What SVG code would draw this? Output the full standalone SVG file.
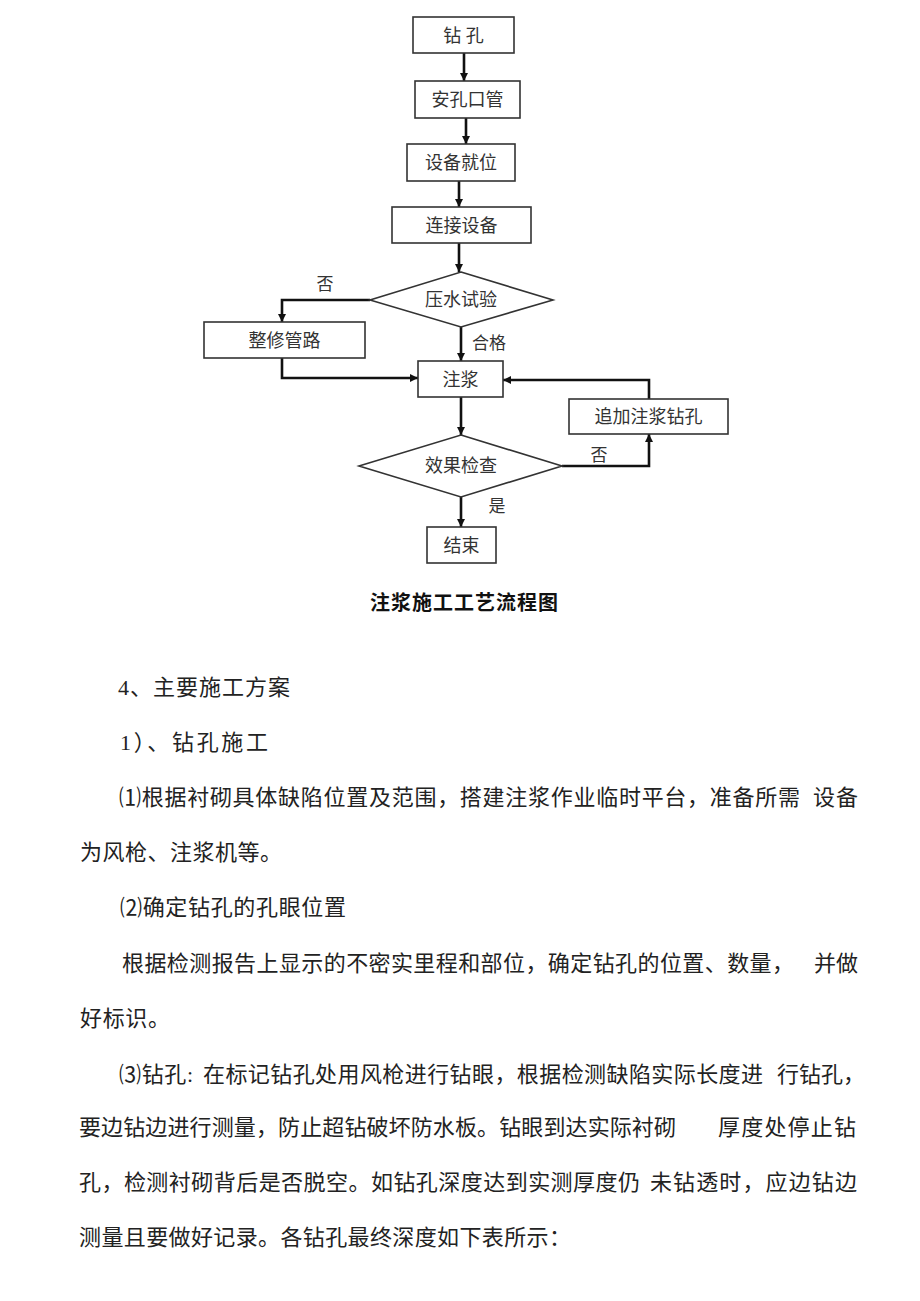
<svg xmlns="http://www.w3.org/2000/svg" width="920" height="1301" viewBox="0 0 920 1301">
<style>
.bg{fill:#ffffff}
.box{fill:#ffffff;stroke:#333333;stroke-width:1.6}
.lbl{font-family:"Liberation Serif","Noto Sans CJK SC",serif;font-size:18px;fill:#333333;text-anchor:middle;dominant-baseline:central}
.note{font-family:"Liberation Serif","Noto Sans CJK SC",serif;font-size:17px;fill:#333333;text-anchor:middle;dominant-baseline:central}
.con{fill:none;stroke:#111111;stroke-width:2.6;stroke-linejoin:miter}
.cap{font-family:"Liberation Serif","Noto Sans CJK SC",serif;font-size:20px;font-weight:bold;fill:#111111;dominant-baseline:central}
.body{font-family:"Liberation Serif","Noto Sans CJK SC",serif;font-size:22px;fill:#222222;dominant-baseline:central}
</style>
<defs>
<marker id="ah" viewBox="0 0 10 10" refX="10" refY="5" markerWidth="9" markerHeight="8" markerUnits="userSpaceOnUse" orient="auto">
<path d="M0,0 L10,5 L0,10 z" fill="#111111"/>
</marker>
</defs>
<rect class="bg" x="0" y="0" width="920" height="1301"/>

<g id="connectors">
<path class="con" d="M464,53 V81" marker-end="url(#ah)"/>
<path class="con" d="M466,118 V144" marker-end="url(#ah)"/>
<path class="con" d="M459,181 V207" marker-end="url(#ah)"/>
<path class="con" d="M459,243 V272" marker-end="url(#ah)"/>
<path class="con" d="M370,300 H282 V322" marker-end="url(#ah)"/>
<path class="con" d="M461,327 V361" marker-end="url(#ah)"/>
<path class="con" d="M282,358 V378 H418" marker-end="url(#ah)"/>
<path class="con" d="M649,399 V380 H503" marker-end="url(#ah)"/>
<path class="con" d="M461,397 V435" marker-end="url(#ah)"/>
<path class="con" d="M562,466 H649 V434" marker-end="url(#ah)"/>
<path class="con" d="M461,497 V527" marker-end="url(#ah)"/>
<text class="note" x="325" y="284">否</text>
<text class="note" x="489" y="343">合格</text>
<text class="note" x="599" y="455">否</text>
<text class="note" x="497" y="506">是</text>
</g>

<g id="n_drill">
<rect class="box" x="413" y="17" width="101" height="36"/>
<text class="lbl" x="463.5" y="36">钻 孔</text>
</g>
<g id="n_pipe">
<rect class="box" x="415" y="81" width="105" height="37"/>
<text class="lbl" x="467.5" y="100">安孔口管</text>
</g>
<g id="n_equip">
<rect class="box" x="407" y="144" width="108" height="37"/>
<text class="lbl" x="461" y="163">设备就位</text>
</g>
<g id="n_connect">
<rect class="box" x="392" y="207" width="139" height="36"/>
<text class="lbl" x="461.5" y="226">连接设备</text>
</g>
<g id="n_test">
<polygon class="box" points="461,272 553,300 461,327 370,300"/>
<text class="lbl" x="461" y="300">压水试验</text>
</g>
<g id="n_repair">
<rect class="box" x="204" y="322" width="161" height="36"/>
<text class="lbl" x="284.5" y="341">整修管路</text>
</g>
<g id="n_grout">
<rect class="box" x="418" y="361" width="85" height="36"/>
<text class="lbl" x="460.5" y="380">注浆</text>
</g>
<g id="n_extra">
<rect class="box" x="569" y="399" width="159" height="35"/>
<text class="lbl" x="648.5" y="417">追加注浆钻孔</text>
</g>
<g id="n_check">
<polygon class="box" points="461,435 562,466 461,497 359,466"/>
<text class="lbl" x="461" y="466">效果检查</text>
</g>
<g id="n_end">
<rect class="box" x="427" y="527" width="69" height="36"/>
<text class="lbl" x="461.5" y="546">结束</text>
</g>

<g id="caption">
<text class="cap" x="370" y="603" textLength="188" lengthAdjust="spacing">注浆施工工艺流程图</text>
</g>

<g id="body">
<text class="body" x="118" y="687" textLength="172" lengthAdjust="spacing">4、主要施工方案</text>
<text class="body" x="120" y="742" textLength="148" lengthAdjust="spacing">1）、钻孔施工</text>
<text class="body" x="119" y="797" textLength="681" lengthAdjust="spacing">⑴根据衬砌具体缺陷位置及范围，搭建注浆作业临时平台，准备所需</text>
<text class="body" x="813" y="797" textLength="45" lengthAdjust="spacing">设备</text>
<text class="body" x="80" y="852" textLength="202" lengthAdjust="spacing">为风枪、注浆机等。</text>
<text class="body" x="120" y="907" textLength="226" lengthAdjust="spacing">⑵确定钻孔的孔眼位置</text>
<text class="body" x="122" y="963" textLength="672" lengthAdjust="spacing">根据检测报告上显示的不密实里程和部位，确定钻孔的位置、数量，</text>
<text class="body" x="814" y="963" textLength="44" lengthAdjust="spacing">并做</text>
<text class="body" x="80" y="1018" textLength="90" lengthAdjust="spacing">好标识。</text>
<text class="body" x="119" y="1074" textLength="74" lengthAdjust="spacing">⑶钻孔:</text>
<text class="body" x="203" y="1074" textLength="560" lengthAdjust="spacing">在标记钻孔处用风枪进行钻眼，根据检测缺陷实际长度进</text>
<text class="body" x="777" y="1074" textLength="88" lengthAdjust="spacing">行钻孔，</text>
<text class="body" x="79" y="1127" textLength="597" lengthAdjust="spacing">要边钻边进行测量，防止超钻破坏防水板。钻眼到达实际衬砌</text>
<text class="body" x="718" y="1127" textLength="138" lengthAdjust="spacing">厚度处停止钻</text>
<text class="body" x="79" y="1182" textLength="561" lengthAdjust="spacing">孔，检测衬砌背后是否脱空。如钻孔深度达到实测厚度仍</text>
<text class="body" x="650" y="1182" textLength="207" lengthAdjust="spacing">未钻透时，应边钻边</text>
<text class="body" x="79" y="1237" textLength="492" lengthAdjust="spacing">测量且要做好记录。各钻孔最终深度如下表所示：</text>
</g>
</svg>
